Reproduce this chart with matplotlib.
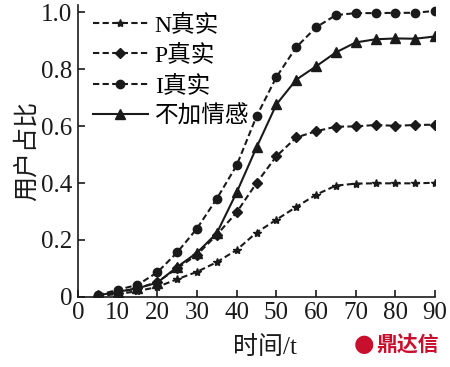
import matplotlib
matplotlib.use('Agg')
import matplotlib.pyplot as plt

plt.rcParams['font.family'] = ['Liberation Serif', 'Noto Sans CJK SC']

t = [5, 10, 15, 20, 25, 30, 35, 40, 45, 50, 55, 60, 65, 70, 75, 80, 85, 90]
n_real = [0.003, 0.01, 0.02, 0.035, 0.062, 0.088, 0.122, 0.165, 0.226, 0.271,
          0.316, 0.359, 0.391, 0.398, 0.399, 0.399, 0.399, 0.401]
p_real = [0.004, 0.015, 0.03, 0.052, 0.1, 0.148, 0.218, 0.297, 0.40, 0.494,
          0.56, 0.582, 0.598, 0.599, 0.604, 0.601, 0.604, 0.605]
i_real = [0.006, 0.025, 0.042, 0.086, 0.156, 0.24, 0.345, 0.462, 0.634, 0.772,
          0.877, 0.947, 0.99, 0.997, 0.997, 0.998, 0.998, 1.005]
no_emotion = [0.005, 0.018, 0.03, 0.05, 0.105, 0.155, 0.224, 0.367, 0.525, 0.676,
              0.763, 0.81, 0.859, 0.894, 0.905, 0.908, 0.907, 0.915]

x_ticks = [0, 10, 20, 30, 40, 50, 60, 70, 80, 90]
y_ticks = [0, 0.2, 0.4, 0.6, 0.8, 1.0]
y_labels = ['0', '0.2', '0.4', '0.6', '0.8', '1.0']

fig = plt.figure(figsize=(4.5, 3.67), dpi=100)
ax = fig.add_axes([0.173, 0.191, 0.794, 0.795])

dash = (0, (3, 1.6))
ax.plot(t, n_real, color='#1a1a1a', linestyle=dash, lw=1.5, marker='*', ms=6, label='N真实')
ax.plot(t, p_real, color='#1a1a1a', linestyle=dash, lw=1.5, marker='D', ms=5.5, label='P真实')
ax.plot(t, i_real, color='#1a1a1a', linestyle=dash, lw=1.5, marker='o', ms=6, label='I真实')
ax.plot(t, no_emotion, color='#1a1a1a', linestyle='-', lw=1.5, marker='^', ms=6.5, label='不加情感')

ax.set_xlim(0, 90)
ax.set_ylim(0, 1.025)
ax.set_xticks(x_ticks)
ax.set_yticks(y_ticks)
ax.set_yticklabels(y_labels)
ax.tick_params(direction='in', length=5, width=1.2, labelsize=18, pad=4, colors='#1a1a1a')
for s in ['top', 'right']:
    ax.spines[s].set_visible(False)
for s in ['left', 'bottom']:
    ax.spines[s].set_linewidth(1.2)
    ax.spines[s].set_color('#1a1a1a')

ax.set_xlabel('时间/t', fontsize=18, color='#1a1a1a', fontweight='light')
ax.xaxis.set_label_coords(0.525, -0.135)
ax.set_ylabel('用户占比', fontsize=18, labelpad=2, color='#1a1a1a', fontweight='light')

leg = ax.legend(loc='upper left', frameon=False, fontsize=17, handlelength=2.3,
                handletextpad=0.3, labelspacing=0.36, borderaxespad=0.1,
                bbox_to_anchor=(0.01, 1.01), prop={'size': 17, 'weight': 'light'})

fig.text(0.81, 0.063, '●', color='#c8102e', fontsize=17, ha='center', va='center',
         family=['DejaVu Sans'])
fig.text(0.905, 0.06, '鼎达信', color='#c8102e', fontsize=15, fontweight='bold',
         ha='center', va='center', family=['Noto Sans CJK SC'])

fig.savefig('out.png', dpi=100)
